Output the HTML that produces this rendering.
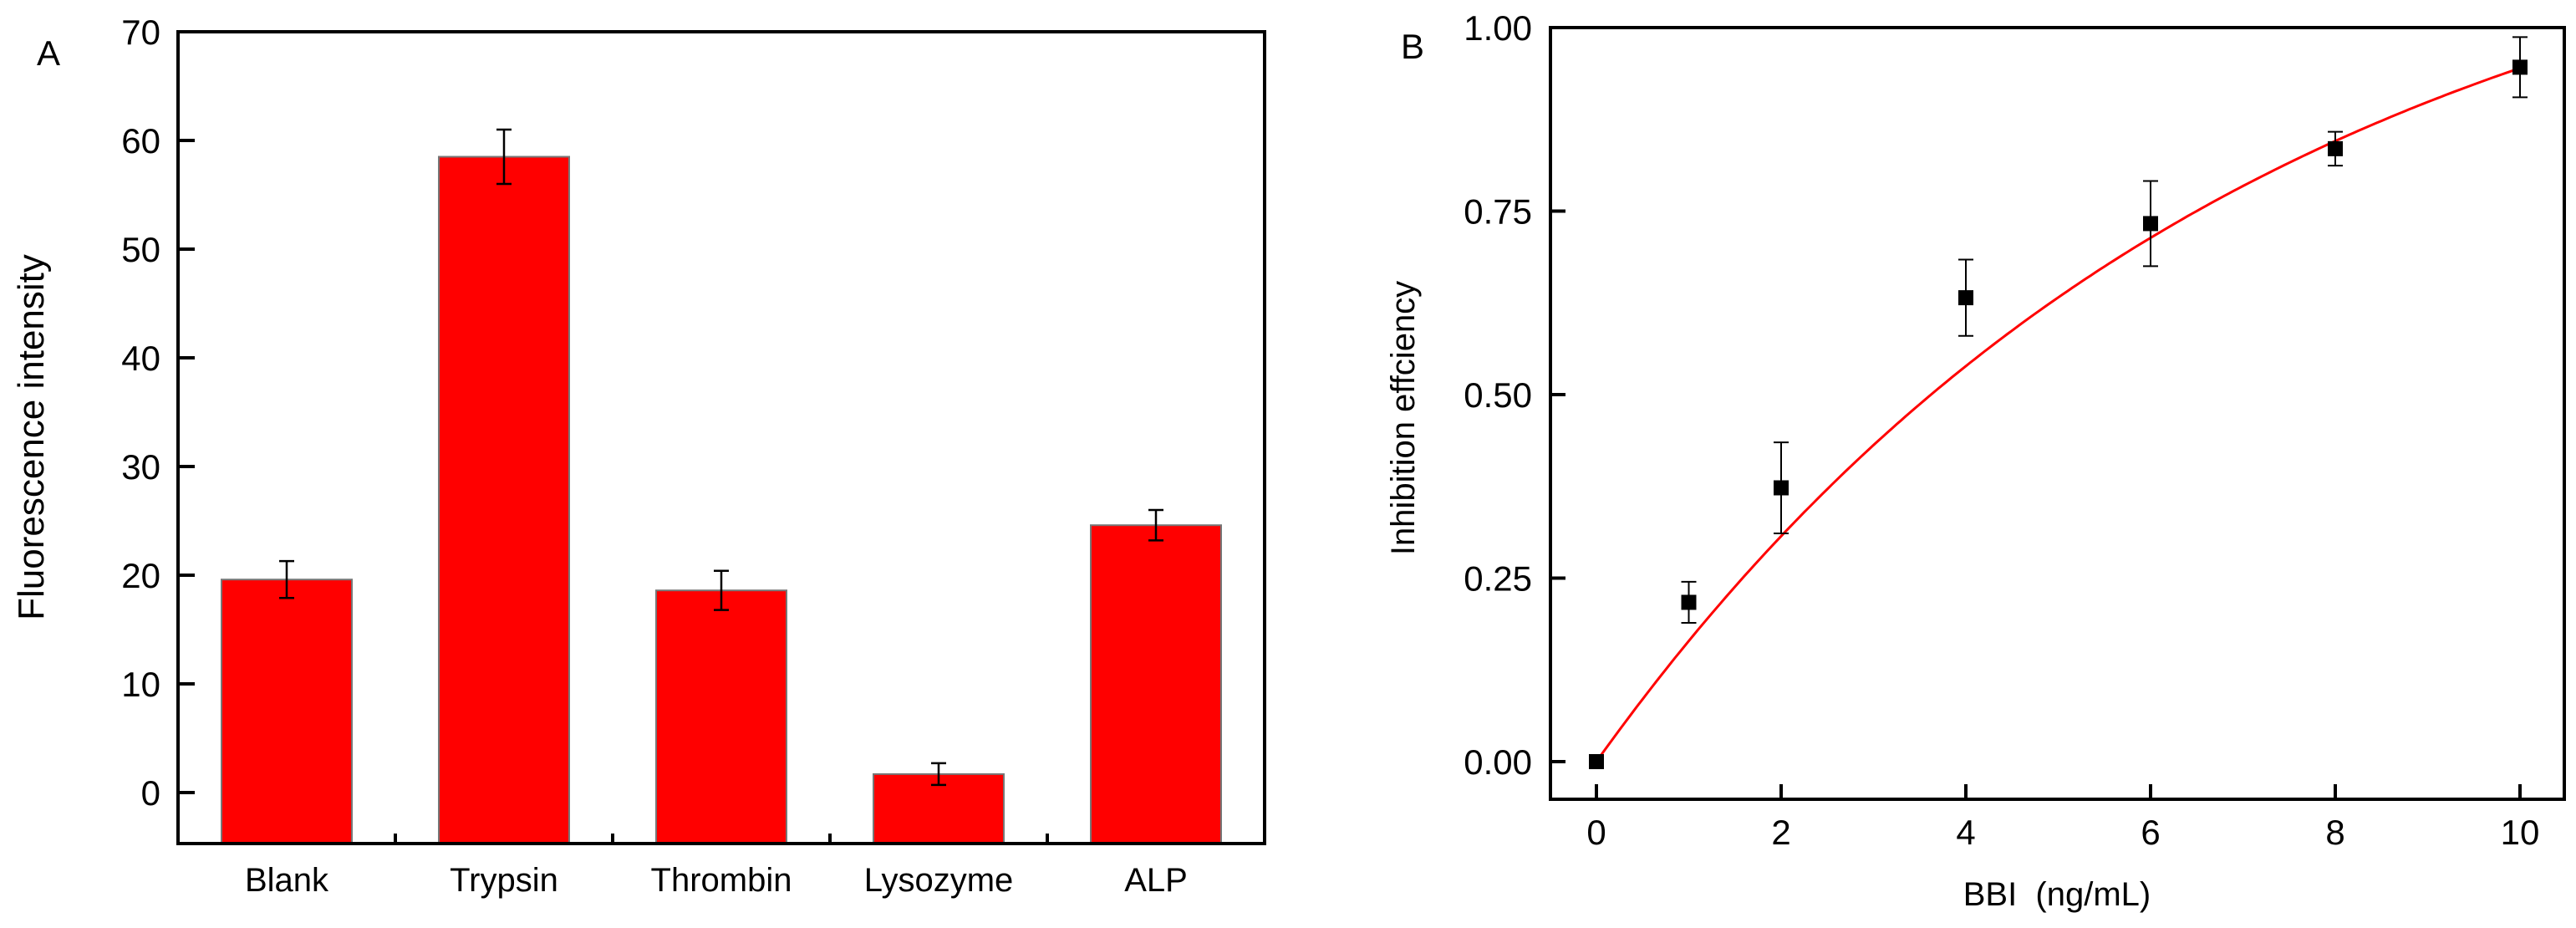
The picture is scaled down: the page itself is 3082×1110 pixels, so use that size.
<!DOCTYPE html>
<html><head><meta charset="utf-8"><style>
html,body{margin:0;padding:0;background:#fff;}
svg{display:block;font-family:"Liberation Sans",Arial,sans-serif;}
</style></head><body>
<svg id="fig" width="3082" height="1110" viewBox="0 0 3082 1110" xmlns="http://www.w3.org/2000/svg">
<g id="pa"></g>
<g id="pb"></g>
</svg>
<script>
// Panel A data
const catsA = ["Blank","Trypsin","Thrombin","Lysozyme","ALP"];
const valsA = [19.6, 58.5, 18.6, 1.7, 24.6];
const errsA = [1.7, 2.5, 1.8, 1.0, 1.4];
const ticksA = [0,10,20,30,40,50,60,70];
// Panel B data
const xB = [0,1,2,4,6,8,10];
const yB = [0,0.217,0.373,0.632,0.733,0.835,0.946];
const errB = [0,0.028,0.062,0.052,0.058,0.023,0.041];
const xTicksB = [0,2,4,6,8,10];
const yTicksB = [0,0.25,0.5,0.75,1.0];
const yTickLabelsB = ["0.00","0.25","0.50","0.75","1.00"];
const fitA = 1.25, fitK = 0.141;

const NS="http://www.w3.org/2000/svg";
function mk(parent,tag,attrs,text){const e=document.createElementNS(NS,tag);for(const k in attrs)e.setAttribute(k,attrs[k]);if(text!==undefined)e.textContent=text;parent.appendChild(e);return e;}

// ---------- Panel A ----------
(function(){
const g=document.getElementById('pa');
const L=213,R=1513,T=38,B=1009;
const ya=v=>948-(v)*13;
const band=(R-L)/catsA.length;
const xc=i=>L+band*(i+0.5);
for(let i=0;i<catsA.length;i++){
  const bw=band*0.6, y=ya(valsA[i]);
  const r=mk(g,'rect',{x:xc(i)-bw/2,y:y,width:bw,height:B-y,fill:'#ff0000',stroke:'#777',"stroke-width":2});
  
  
  const e=mk(g,'path',{d:`M${xc(i)} ${ya(valsA[i]+errsA[i])}V${ya(valsA[i]-errsA[i])}M${xc(i)-9} ${ya(valsA[i]+errsA[i])}h18M${xc(i)-9} ${ya(valsA[i]-errsA[i])}h18`,stroke:'#000',"stroke-width":2.5,fill:'none'});
  
  
  const t=mk(g,'text',{x:xc(i),y:1066,"font-size":40,"text-anchor":"middle"},catsA[i]);
  
  
  if(i>0){mk(g,'line',{x1:L+band*i,x2:L+band*i,y1:B,y2:B-12,stroke:'#000',"stroke-width":4});}
}
for(const v of ticksA){
  mk(g,'line',{x1:L,x2:L+20,y1:ya(v),y2:ya(v),stroke:'#000',"stroke-width":4});
  const t=mk(g,'text',{x:192,y:ya(v)+15,"font-size":42,"text-anchor":"end"},String(v));
  
  
}
const fr=mk(g,'rect',{x:L,y:T,width:R-L,height:B-T,fill:'none',stroke:'#000',"stroke-width":4});


const yt=mk(g,'text',{x:0,y:0,"font-size":44,"text-anchor":"middle",transform:`translate(52,523) rotate(-90)`},'Fluorescence intensity');


const pl=mk(g,'text',{x:44,y:78,"font-size":42},'A');


})();

// ---------- Panel B ----------
(function(){
const g=document.getElementById('pb');
const L=1855,R=3068,T=33,B=956;
const xs=v=>1910+v*110.5;
const ys=v=>911-v*878;
let d='';
for(let i=0;i<=200;i++){const x=10*i/200;const y=fitA*(1-Math.exp(-fitK*x));d+=(i?'L':'M')+xs(x).toFixed(1)+' '+ys(y).toFixed(1);}
const c=mk(g,'path',{d:d,stroke:'#ff0000',"stroke-width":3,fill:'none'});


for(let i=0;i<xB.length;i++){
  const x=xs(xB[i]),y=ys(yB[i]);
  if(errB[i]>0){
    const e=mk(g,'path',{d:`M${x} ${ys(yB[i]+errB[i])}V${ys(yB[i]-errB[i])}M${x-9} ${ys(yB[i]+errB[i])}h18M${x-9} ${ys(yB[i]-errB[i])}h18`,stroke:'#000',"stroke-width":2,fill:'none'});
    
    
  }
  const m=mk(g,'rect',{x:x-9,y:y-9,width:18,height:18,fill:'#000'});
  
  
}
for(const v of xTicksB){
  mk(g,'line',{x1:xs(v),x2:xs(v),y1:B,y2:B-18,stroke:'#000',"stroke-width":4});
  const t=mk(g,'text',{x:xs(v),y:1010,"font-size":42,"text-anchor":"middle"},String(v));
  
  
}
for(let i=0;i<yTicksB.length;i++){
  const v=yTicksB[i];
  mk(g,'line',{x1:L,x2:L+18,y1:ys(v),y2:ys(v),stroke:'#000',"stroke-width":4});
  const t=mk(g,'text',{x:1833,y:ys(v)+15,"font-size":42,"text-anchor":"end"},yTickLabelsB[i]);
  
  
}
const fr=mk(g,'rect',{x:L,y:T,width:R-L,height:B-T,fill:'none',stroke:'#000',"stroke-width":4});


const xt=mk(g,'text',{x:2461,y:1083,"font-size":40,"text-anchor":"middle",style:"white-space:pre"},'BBI \u00A0(ng/mL)');


const yt=mk(g,'text',{x:0,y:0,"font-size":40,"text-anchor":"middle",transform:`translate(1692,500) rotate(-90)`},'Inhibition effciency');


const pl=mk(g,'text',{x:1676,y:70,"font-size":42},'B');


})();
</script>
</body></html>
